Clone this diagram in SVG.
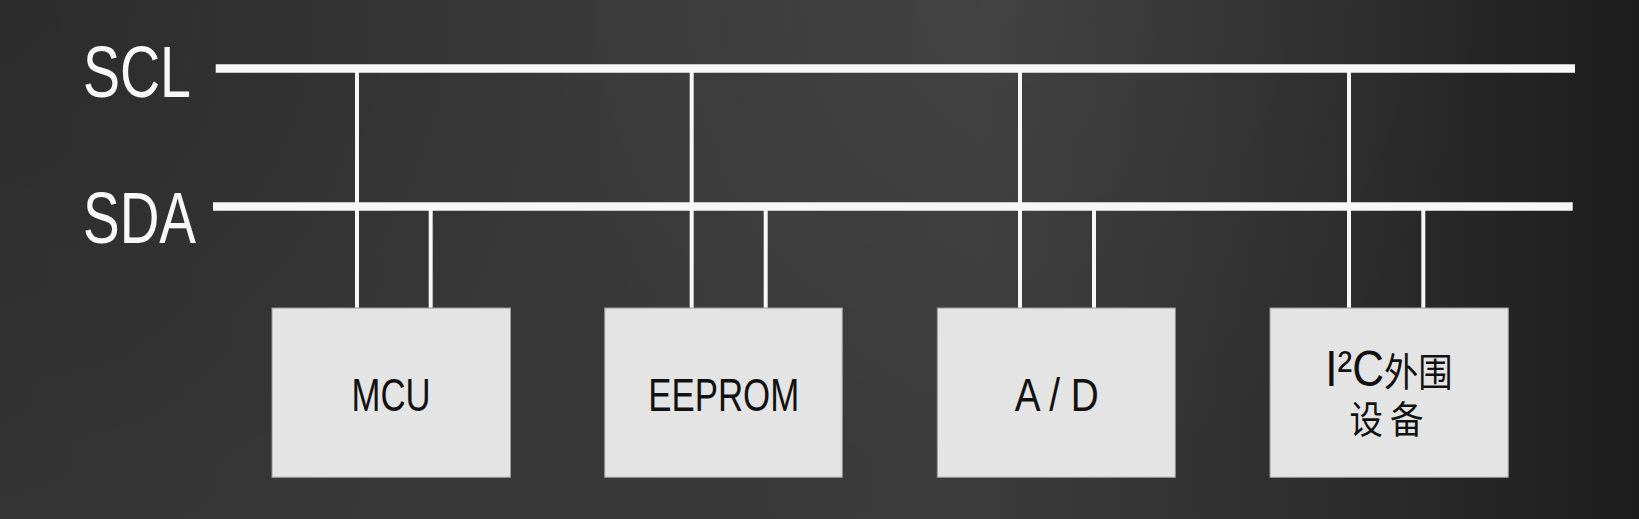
<svg xmlns="http://www.w3.org/2000/svg" width="1639" height="519" viewBox="0 0 1639 519">
  <defs>
    <linearGradient id="bgH" x1="0" y1="0" x2="1639" y2="0" gradientUnits="userSpaceOnUse">
      <stop offset="0" stop-color="#353535"/>
      <stop offset="0.6" stop-color="#3b3b3b"/>
      <stop offset="0.85" stop-color="#2a2a2a"/>
      <stop offset="1" stop-color="#1d1d1d"/>
    </linearGradient>
    <radialGradient id="tl" cx="0" cy="0" r="600" gradientUnits="userSpaceOnUse">
      <stop offset="0" stop-color="#000" stop-opacity="0.18"/>
      <stop offset="1" stop-color="#000" stop-opacity="0"/>
    </radialGradient>
    <radialGradient id="tc" cx="1000" cy="0" r="500" gradientUnits="userSpaceOnUse">
      <stop offset="0" stop-color="#fff" stop-opacity="0.04"/>
      <stop offset="1" stop-color="#fff" stop-opacity="0"/>
    </radialGradient>
    <style>
      .bus { stroke: #f7f7f7; stroke-width: 8.5; fill: none; }
      .tap { stroke: #f7f7f7; stroke-width: 4; fill: none; }
      .box { fill: #e4e4e4; stroke: #9a9a9a; stroke-width: 1; }
      .buslabel { font-family: "Liberation Sans", Arial, sans-serif; font-size: 72px; fill: #f8f8f8; }
      .label { font-family: "Liberation Sans", Arial, sans-serif; font-size: 47px; fill: #111; text-anchor: middle; }
      .cjk { font-family: "Liberation Sans", "Noto Sans CJK SC", sans-serif; fill: #111; text-anchor: middle; }
    </style>
  </defs>
  <rect x="0" y="0" width="1639" height="519" fill="url(#bgH)"/>
  <rect x="0" y="0" width="1639" height="519" fill="url(#tl)"/>
  <rect x="0" y="0" width="1639" height="519" fill="url(#tc)"/>

  <g id="bus-labels">
    <text class="buslabel" x="83" y="97" textLength="108" lengthAdjust="spacingAndGlyphs">SCL</text>
    <text class="buslabel" x="83" y="243" textLength="113" lengthAdjust="spacingAndGlyphs">SDA</text>
  </g>

  <g id="connectors">
    <line class="bus" x1="215.7" y1="68.5" x2="1575" y2="68.5"/>
    <line class="bus" x1="213" y1="206.5" x2="1572.7" y2="206.5"/>
    <line class="tap" x1="357" y1="68.5" x2="357" y2="308"/>
    <line class="tap" x1="430.7" y1="206.5" x2="430.7" y2="308"/>
    <line class="tap" x1="691.7" y1="68.5" x2="691.7" y2="308"/>
    <line class="tap" x1="765.7" y1="206.5" x2="765.7" y2="308"/>
    <line class="tap" x1="1020" y1="68.5" x2="1020" y2="308"/>
    <line class="tap" x1="1094" y1="206.5" x2="1094" y2="308"/>
    <line class="tap" x1="1349" y1="68.5" x2="1349" y2="308"/>
    <line class="tap" x1="1423.3" y1="206.5" x2="1423.3" y2="308"/>
  </g>

  <g id="node-mcu">
    <rect class="box" x="272" y="308" width="238.5" height="169.3"/>
    <text class="label" x="391" y="410.7" textLength="79" lengthAdjust="spacingAndGlyphs">MCU</text>
  </g>
  <g id="node-eeprom">
    <rect class="box" x="604.7" y="308" width="237.6" height="169.3"/>
    <text class="label" x="723.7" y="410.7" textLength="151" lengthAdjust="spacingAndGlyphs">EEPROM</text>
  </g>
  <g id="node-ad">
    <rect class="box" x="937.3" y="308" width="238" height="169.3"/>
    <text class="label" x="1056.8" y="410.7" textLength="84" lengthAdjust="spacingAndGlyphs">A / D</text>
  </g>
  <g id="node-i2c">
    <rect class="box" x="1270" y="308" width="238.3" height="169.3"/>
    <g transform="translate(1389,0) scale(0.88,1) translate(-1389,0)">
      <text class="cjk" x="1389" y="386" font-size="39"><tspan font-size="50">I²C</tspan>外围</text>
      <text class="cjk" x="1390" y="433" font-size="38" letter-spacing="8">设备</text>
    </g>
  </g>
</svg>
